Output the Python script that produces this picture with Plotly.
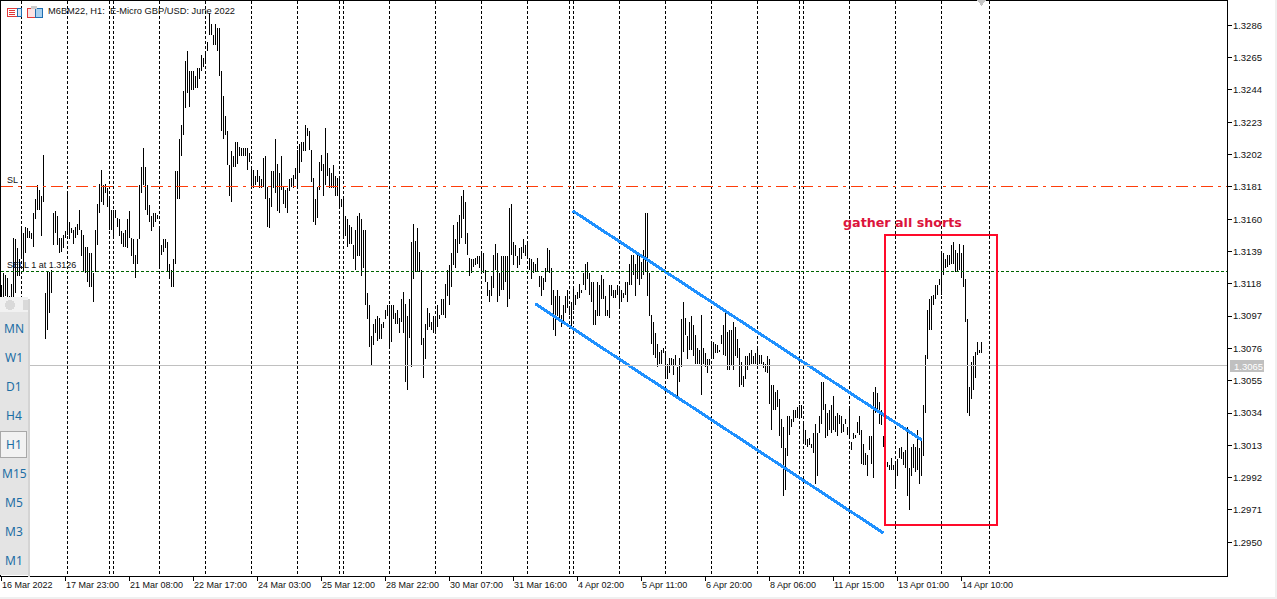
import plotly.graph_objects as go

# hourly highs and lows
high = [
    1.3117,1.3125,1.3124,1.3122,1.3110,1.3118,1.3148,1.3147,1.3141,1.3134,
    1.3155,1.3151,1.3155,1.3154,1.3152,1.3151,1.3164,1.3173,1.3182,1.3179,
    1.3175,1.3202,1.3112,1.3126,1.3126,1.3127,1.3164,1.3165,1.3162,1.3148,
    1.3148,1.3150,1.3152,1.3177,1.3158,1.3154,1.3153,1.3155,1.3157,1.3166,
    1.3153,1.3150,1.3142,1.3142,1.3138,1.3138,1.3125,1.3153,1.3170,1.3183,
    1.3192,1.3182,1.3183,1.3180,1.3173,1.3166,1.3166,1.3166,1.3161,1.3160,
    1.3152,1.3151,1.3153,1.3160,1.3165,1.3148,1.3147,1.3137,1.3147,1.3182,
    1.3194,1.3206,1.3194,1.3182,1.3169,1.3162,1.3164,1.3164,1.3163,1.3155,
    1.3143,1.3147,1.3147,1.3145,1.3131,1.3127,1.3134,1.3191,1.3191,1.3212,
    1.3221,1.3243,1.3263,1.3269,1.3256,1.3256,1.3256,1.3253,1.3258,1.3258,
    1.3267,1.3265,1.3269,1.3275,1.3294,1.3287,1.3280,1.3287,1.3284,1.3284,
    1.3256,1.3240,1.3227,1.3217,1.3195,1.3204,1.3201,1.3210,1.3210,1.3207,
    1.3206,1.3206,1.3206,1.3206,1.3203,1.3193,1.3192,1.3188,1.3192,1.3188,
    1.3186,1.3200,1.3201,1.3181,1.3174,1.3191,1.3191,1.3212,1.3196,1.3190,
    1.3201,1.3181,1.3179,1.3180,1.3186,1.3187,1.3189,1.3193,1.3205,1.3209,
    1.3210,1.3210,1.3221,1.3219,1.3217,1.3205,1.3187,1.3173,1.3181,1.3197,
    1.3202,1.3196,1.3219,1.3203,1.3193,1.3190,1.3195,1.3188,1.3187,1.3186,
    1.3173,1.3174,1.3162,1.3160,1.3156,1.3155,1.3143,1.3153,1.3162,1.3164,
    1.3160,1.3153,1.3153,1.3112,1.3104,1.3084,1.3092,1.3095,1.3097,1.3096,
    1.3092,1.3093,1.3101,1.3104,1.3104,1.3104,1.3104,1.3099,1.3101,1.3096,
    1.3108,1.3113,1.3105,1.3097,1.3108,1.3145,1.3157,1.3146,1.3154,1.3139,
    1.3127,1.3083,1.3092,1.3102,1.3099,1.3093,1.3097,1.3097,1.3104,1.3098,
    1.3108,1.3108,1.3118,1.3127,1.3130,1.3138,1.3156,1.3147,1.3158,1.3163,
    1.3175,1.3179,1.3171,1.3151,1.3135,1.3134,1.3134,1.3135,1.3136,1.3136,
    1.3138,1.3138,1.3127,1.3119,1.3114,1.3123,1.3137,1.3144,1.3138,1.3125,
    1.3136,1.3136,1.3136,1.3136,1.3167,1.3170,1.3145,1.3143,1.3136,1.3141,
    1.3142,1.3147,1.3143,1.3145,1.3135,1.3134,1.3132,1.3131,1.3135,1.3123,
    1.3123,1.3122,1.3128,1.3141,1.3140,1.3128,1.3114,1.3110,1.3114,1.3110,
    1.3098,1.3104,1.3110,1.3114,1.3103,1.3106,1.3115,1.3111,1.3113,1.3118,
    1.3114,1.3125,1.3131,1.3132,1.3125,1.3119,1.3119,1.3101,1.3119,1.3117,
    1.3124,1.3121,1.3110,1.3101,1.3117,1.3117,1.3114,1.3114,1.3117,1.3115,
    1.3114,1.3112,1.3119,1.3119,1.3131,1.3137,1.3137,1.3131,1.3137,1.3136,
    1.3132,1.3140,1.3164,1.3164,1.3125,1.3098,1.3093,1.3086,1.3079,1.3074,
    1.3075,1.3076,1.3073,1.3066,1.3070,1.3070,1.3069,1.3072,1.3064,1.3070,
    1.3095,1.3106,1.3096,1.3084,1.3093,1.3097,1.3091,1.3085,1.3076,1.3075,
    1.3098,1.3076,1.3073,1.3069,1.3069,1.3080,1.3080,1.3079,1.3078,1.3075,
    1.3085,1.3091,1.3101,1.3087,1.3088,1.3088,1.3093,1.3090,1.3082,1.3076,
    1.3067,1.3058,1.3071,1.3071,1.3073,1.3075,1.3071,1.3073,1.3076,1.3072,
    1.3072,1.3067,1.3066,1.3071,1.3069,1.3052,1.3052,1.3048,1.3049,1.3043,
    1.3030,1.3025,1.3011,1.3032,1.3032,1.3030,1.3036,1.3036,1.3038,1.3039,
    1.3039,1.3028,1.3023,1.3017,1.3018,1.3014,1.3021,1.3027,1.3021,1.3032,
    1.3054,1.3054,1.3040,1.3034,1.3036,1.3039,1.3045,1.3032,1.3034,1.3033,
    1.3032,1.3027,1.3030,1.3025,1.3037,1.3015,1.3021,1.3020,1.3028,1.3032,
    1.3023,1.3014,1.3008,1.3007,1.3019,1.3019,1.3048,1.3051,1.3047,1.3041,
    1.3036,1.3019,1.3008,1.3002,1.3000,1.3005,1.3000,1.3002,1.3004,1.3011,
    1.3012,1.3009,1.3010,1.3025,1.2998,1.3012,1.3014,1.3012,1.3023,1.3011,
    1.3017,1.3039,1.3072,1.3101,1.3108,1.3110,1.3111,1.3117,1.3117,1.3121,
    1.3138,1.3138,1.3134,1.3137,1.3137,1.3143,1.3145,1.3140,1.3138,1.3144,
    1.3138,1.3143,1.3121,1.3095,1.3051,1.3067,1.3071,1.3074,1.3080,1.3075,
    1.3080,
]
low = [
    1.3107,1.3108,1.3110,1.3108,1.3095,1.3108,1.3108,1.3112,1.3123,1.3123,
    1.3136,1.3126,1.3138,1.3148,1.3148,1.3147,1.3142,1.3160,1.3166,1.3166,
    1.3149,1.3171,1.3082,1.3088,1.3099,1.3112,1.3143,1.3151,1.3143,1.3138,
    1.3139,1.3141,1.3148,1.3150,1.3147,1.3151,1.3144,1.3148,1.3150,1.3153,
    1.3136,1.3126,1.3125,1.3119,1.3116,1.3116,1.3106,1.3126,1.3143,1.3164,
    1.3171,1.3169,1.3177,1.3168,1.3153,1.3153,1.3149,1.3161,1.3155,1.3149,
    1.3144,1.3142,1.3142,1.3141,1.3148,1.3136,1.3131,1.3122,1.3131,1.3147,
    1.3177,1.3182,1.3166,1.3163,1.3158,1.3152,1.3155,1.3158,1.3160,1.3129,
    1.3137,1.3139,1.3141,1.3126,1.3121,1.3116,1.3116,1.3131,1.3173,1.3173,
    1.3201,1.3215,1.3232,1.3242,1.3233,1.3244,1.3244,1.3245,1.3245,1.3251,
    1.3256,1.3259,1.3262,1.3269,1.3280,1.3280,1.3273,1.3273,1.3269,1.3253,
    1.3217,1.3212,1.3215,1.3195,1.3175,1.3171,1.3194,1.3194,1.3196,1.3201,
    1.3201,1.3201,1.3201,1.3192,1.3197,1.3181,1.3180,1.3182,1.3184,1.3180,
    1.3180,1.3181,1.3173,1.3155,1.3154,1.3168,1.3180,1.3177,1.3165,1.3164,
    1.3179,1.3170,1.3167,1.3164,1.3178,1.3181,1.3180,1.3186,1.3181,1.3190,
    1.3197,1.3204,1.3204,1.3214,1.3205,1.3184,1.3158,1.3156,1.3161,1.3179,
    1.3191,1.3175,1.3182,1.3188,1.3180,1.3180,1.3180,1.3175,1.3175,1.3168,
    1.3168,1.3149,1.3149,1.3142,1.3144,1.3144,1.3134,1.3127,1.3136,1.3136,
    1.3123,1.3128,1.3104,1.3095,1.3077,1.3065,1.3078,1.3086,1.3081,1.3082,
    1.3082,1.3089,1.3095,1.3097,1.3077,1.3080,1.3095,1.3092,1.3092,1.3086,
    1.3093,1.3086,1.3054,1.3049,1.3083,1.3064,1.3121,1.3126,1.3126,1.3126,
    1.3078,1.3057,1.3069,1.3088,1.3090,1.3088,1.3086,1.3087,1.3090,1.3095,
    1.3098,1.3098,1.3096,1.3110,1.3104,1.3116,1.3130,1.3128,1.3138,1.3144,
    1.3148,1.3160,1.3144,1.3137,1.3123,1.3125,1.3129,1.3130,1.3131,1.3128,
    1.3126,1.3125,1.3119,1.3110,1.3106,1.3110,1.3115,1.3127,1.3106,1.3110,
    1.3114,1.3114,1.3119,1.3103,1.3108,1.3137,1.3130,1.3136,1.3128,1.3130,
    1.3134,1.3138,1.3136,1.3135,1.3127,1.3121,1.3125,1.3126,1.3126,1.3116,
    1.3110,1.3114,1.3119,1.3126,1.3125,1.3104,1.3088,1.3084,1.3097,1.3093,
    1.3090,1.3093,1.3099,1.3102,1.3098,1.3090,1.3101,1.3104,1.3108,1.3109,
    1.3112,1.3117,1.3114,1.3121,1.3111,1.3106,1.3091,1.3091,1.3097,1.3097,
    1.3108,1.3108,1.3097,1.3097,1.3096,1.3110,1.3109,1.3109,1.3111,1.3102,
    1.3106,1.3109,1.3111,1.3106,1.3117,1.3117,1.3124,1.3110,1.3121,1.3117,
    1.3121,1.3124,1.3126,1.3110,1.3097,1.3079,1.3072,1.3070,1.3064,1.3066,
    1.3066,1.3073,1.3056,1.3056,1.3060,1.3065,1.3059,1.3065,1.3045,1.3054,
    1.3064,1.3074,1.3085,1.3069,1.3075,1.3075,1.3071,1.3066,1.3066,1.3066,
    1.3046,1.3066,1.3064,1.3060,1.3065,1.3069,1.3069,1.3073,1.3073,1.3074,
    1.3079,1.3072,1.3071,1.3062,1.3062,1.3065,1.3062,1.3071,1.3070,1.3051,
    1.3052,1.3051,1.3056,1.3062,1.3065,1.3066,1.3066,1.3066,1.3065,1.3066,
    1.3066,1.3063,1.3061,1.3060,1.3040,1.3023,1.3036,1.3036,1.3038,1.3019,
    1.3011,1.2980,1.2984,1.3006,1.3020,1.3025,1.3028,1.3031,1.3031,1.3032,
    1.3031,1.3014,1.3013,1.3012,1.3013,1.3011,1.3008,1.2988,1.2993,1.3021,
    1.3027,1.3036,1.3018,1.3019,1.3023,1.3021,1.3023,1.3022,1.3019,1.3027,
    1.3021,1.3022,1.3027,1.3020,1.3017,1.3010,1.3017,1.3018,1.3021,1.3020,
    1.3001,1.3000,1.3000,1.2993,1.3010,1.3001,1.2992,1.3034,1.3036,1.3027,
    1.3026,1.3012,1.3001,1.2999,1.2997,1.2997,1.2997,1.2985,1.2993,1.3005,
    1.3004,1.3000,1.2998,1.2980,1.2971,1.2993,1.2998,1.2996,1.2997,1.2988,
    1.2993,1.3006,1.3034,1.3069,1.3088,1.3088,1.3104,1.3108,1.3111,1.3117,
    1.3111,1.3124,1.3128,1.3129,1.3130,1.3131,1.3131,1.3126,1.3126,1.3127,
    1.3122,1.3116,1.3093,1.3034,1.3032,1.3043,1.3049,1.3057,1.3072,1.3073,
    1.3073,
]
time_labels = ["16 Mar 2022", "17 Mar 23:00", "21 Mar 08:00", "22 Mar 17:00",
               "24 Mar 03:00", "25 Mar 12:00", "28 Mar 22:00", "30 Mar 07:00",
               "31 Mar 16:00", "4 Apr 02:00", "5 Apr 11:00", "6 Apr 20:00",
               "8 Apr 06:00", "11 Apr 15:00", "13 Apr 01:00", "14 Apr 10:00"]
price_ticks = [1.3286, 1.3265, 1.3244, 1.3223, 1.3202, 1.3181, 1.3160, 1.3139, 1.3118,
               1.3097, 1.3076, 1.3055, 1.3034, 1.3013, 1.2992, 1.2971, 1.2950]
day_breaks = [10, 33, 54, 56, 79, 102, 125, 148, 169, 171, 194, 217, 240,
              263, 284, 286, 309, 332, 355, 378, 399, 401, 424, 447, 470, 494]
sl_price = 1.31812
sell_price = 1.3126
last_price = 1.30649
channel_top = ([285.5, 460.2], [1.31655, 1.30165])
channel_bottom = ([266.9, 441.0], [1.3105, 1.2956])
box = dict(x0=441.75, x1=497.75, y0=1.296126, y1=1.314972)
periods = ["MN", "W1", "D1", "H4", "H1", "M15", "M5", "M3", "M1"]

W, H = 1277, 599
M_L, M_R, M_T, M_B = 1, 50, 1, 23
FONT = "Liberation Sans"


def px(x):
    return (x - M_L) / (W - M_L - M_R)


def py(y):
    return 1 - (y - M_T) / (H - M_T - M_B)


def box_px(fig, x0, y0, x1, y1, fill, line=None, kind="rect"):
    fig.add_shape(type=kind, xref="paper", yref="paper", x0=px(x0), x1=px(x1), y0=py(y0), y1=py(y1),
                  fillcolor=fill, line=dict(color=line or fill, width=1 if line else 0), layer="above")


def text_px(fig, x, y, text, size=9, color="#111111", anchor="left", family=FONT, bold=False):
    fig.add_annotation(xref="paper", yref="paper", x=px(x), y=py(y), text=f"<b>{text}</b>" if bold else text,
                       showarrow=False, xanchor=anchor, yanchor="middle", borderpad=0,
                       font=dict(size=size, color=color, family=family))


fig = go.Figure()

# vertical day separators
sep_x, sep_y = [], []
for b in day_breaks:
    sep_x += [b, b, None]
    sep_y += [1.2, 1.4, None]
fig.add_trace(go.Scatter(x=sep_x, y=sep_y, mode="lines", hoverinfo="skip",
                         line=dict(color="black", width=1, dash="3px,2px")))

fig.add_hline(y=last_price, line=dict(color="#c0c0c0", width=1))
fig.add_hline(y=sl_price, line=dict(color="#ff3d0a", width=1, dash="12px,5px,3px,5px"))
fig.add_hline(y=sell_price, line=dict(color="#006400", width=1, dash="3px,2px"))

# price bars
bar_x, bar_y = [], []
for i, (h, l) in enumerate(zip(high, low)):
    bar_x += [i, i, None]
    bar_y += [l, h, None]
fig.add_trace(go.Scatter(x=bar_x, y=bar_y, mode="lines", hoverinfo="skip",
                         line=dict(color="black", width=1)))

# falling channel
for xs, ys in (channel_top, channel_bottom):
    fig.add_trace(go.Scatter(x=xs, y=ys, mode="lines", hoverinfo="skip",
                             line=dict(color="#1e90ff", width=3)))

fig.add_shape(type="rect", x0=box["x0"], x1=box["x1"], y0=box["y0"], y1=box["y1"],
              line=dict(color="#ff0a2a", width=2))

fig.update_layout(
    width=W, height=H,
    margin=dict(l=M_L, r=M_R, t=M_T, b=M_B, pad=0),
    showlegend=False,
    paper_bgcolor="white", plot_bgcolor="white",
    font=dict(family=FONT, size=9, color="#111111"),
    xaxis=dict(range=[-0.25, 612.75], showgrid=False, zeroline=False, showline=True, mirror=True,
               linecolor="black", linewidth=1, ticks="outside", ticklen=4, tickcolor="black",
               tickvals=[32 * n for n in range(len(time_labels))], showticklabels=False),
    yaxis=dict(range=[1.29281, 1.33018], side="right", showgrid=False, zeroline=False, showline=True,
               mirror=True, linecolor="black", linewidth=1, ticks="outside", ticklen=4, tickcolor="black",
               tickvals=price_ticks, ticktext=[f"{p:.4f}" for p in price_ticks],
               tickfont=dict(size=9.5), ticklabelstandoff=-1),
)

# time labels start at their tick, not centred on it
for n, label in enumerate(time_labels):
    fig.add_annotation(x=32 * n, xref="x", yref="paper", y=py(585), text=label, showarrow=False,
                       xanchor="left", yanchor="middle", xshift=-1, borderpad=0,
                       font=dict(size=9, color="#111111", family=FONT))

# chart texts
text_px(fig, 47, 11, "M6BM22, H1:  E-Micro GBP/USD: June 2022", size=9.3)
text_px(fig, 5.5, 180, "SL")
text_px(fig, 5.5, 265, "SELL 1 at 1.3126")
text_px(fig, 842, 222.5, "gather all shorts", size=12.7, color="#dc143c", family="DejaVu Sans", bold=True)

# current price tag on the right axis
box_px(fig, 1230, 360, 1264, 372, "#c0c0c0")
text_px(fig, 1233, 366, f"{last_price:.4f}", color="white", size=9.5)

# small marker at the top edge
fig.add_shape(type="path", xref="paper", yref="paper", layer="above", fillcolor="#c4c4c4", line=dict(width=0),
              path=f"M {px(977)} {py(0)} L {px(986)} {py(0)} L {px(981.5)} {py(6)} Z")

# window edges
box_px(fig, 1275, 0, 1277, 599, "#f0f0f0")
box_px(fig, 0, 597, 1277, 599, "#f0f0f0")

# toolbar icons
box_px(fig, 7, 8, 17, 16, "white", "#e03a3a")
for y in (10, 12, 14):
    box_px(fig, 9, y, 15, y + 0.5, "#e03a3a")
box_px(fig, 17, 8, 21, 16, "#d7e8f5", "#1f6fb2")
box_px(fig, 27, 8, 35, 17, "#fbe3e3", "#e03a3a")
box_px(fig, 35, 8, 42, 17, "#a9d0ee", "#1f6fb2")
box_px(fig, 31, 6, 37, 9, "#cccccc")

# timeframe panel
box_px(fig, 28, 299, 30, 577, "#d4d4d4")
box_px(fig, 0, 297, 28, 575, "#e4e4e4")
box_px(fig, 0, 297, 28, 312, "#f1f1f1")
box_px(fig, 5, 300, 15, 310, "#d9d9d9", kind="circle")
box_px(fig, 23, 300, 28, 310, "#d9d9d9")
box_px(fig, 0, 431, 26, 457, "#f2f2f2", "#a8a8a8")
for n, name in enumerate(periods):
    text_px(fig, 14, 328.5 + n * 29, name, size=12, color="#1c6ea4", anchor="center", family="Noto Sans")

# hard pixel edges, like the terminal's own drawing
crisp = ("document.body.style.margin='0';document.documentElement.style.overflow='hidden';"
         "setTimeout(function(){document.querySelectorAll('.scatterlayer path,.shapelayer path')"
         ".forEach(function(p){p.style.shapeRendering='crispEdges';});},100);")
fig.write_html("out.html", config={"displayModeBar": False}, post_script=crisp)
